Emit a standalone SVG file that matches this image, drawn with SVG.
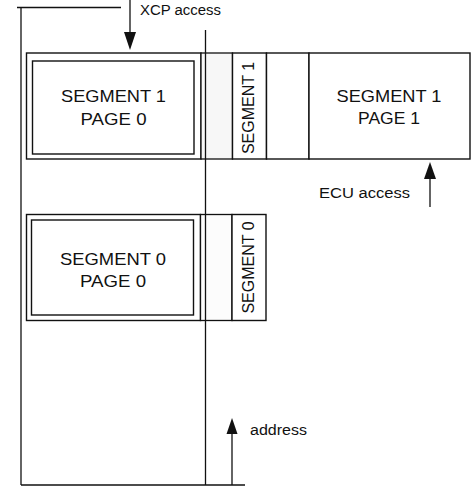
<svg xmlns="http://www.w3.org/2000/svg" width="472" height="489" viewBox="0 0 472 489">
  <style>
    .ln { stroke: #111; stroke-width: 1.3; fill: none; }
    .bx { stroke: #111; stroke-width: 1.4; fill: #fff; }
    .gap { stroke: #111; stroke-width: 1.3; fill: #f7f7f7; }
    .gap2 { stroke: #111; stroke-width: 1.3; fill: #fcfcfc; }
    .big { font-family: "Liberation Sans", Arial, sans-serif; font-size: 17px; fill: #111; text-anchor: middle; }
    .rot { font-family: "Liberation Sans", Arial, sans-serif; font-size: 16px; fill: #111; text-anchor: middle; }
    .lbl { font-family: "Liberation Sans", Arial, sans-serif; font-size: 15.5px; fill: #111; }
    .head { fill: #111; stroke: none; }
  </style>

  <rect width="472" height="489" fill="#fff"/>

  <!-- address space frame -->
  <g id="frame">
    <line class="ln" x1="17" y1="7.5" x2="121" y2="7.5"/>
    <line class="ln" x1="21" y1="7.5" x2="21" y2="485"/>
    <line class="ln" x1="21" y1="485" x2="245" y2="485"/>
  </g>

  <!-- segment 1 : page 0 (XCP side) -->
  <g id="seg1-page0">
    <rect class="bx" x="26.5" y="53" width="174.5" height="106"/>
    <rect class="bx" x="32.5" y="61" width="161.5" height="93"/>
    <text class="big" x="113.5" y="102" textLength="105" lengthAdjust="spacingAndGlyphs">SEGMENT 1</text>
    <text class="big" x="113.5" y="124.5" textLength="66" lengthAdjust="spacingAndGlyphs">PAGE 0</text>
  </g>

  <!-- segment 1 strip -->
  <g id="seg1-strip">
    <rect class="gap" x="201" y="53" width="31.5" height="106"/>
    <rect class="bx" x="232.5" y="53" width="34" height="106"/>
    <text class="rot" transform="translate(253.5 108) rotate(-90)">SEGMENT 1</text>
    <rect class="bx" x="266.5" y="53" width="42.5" height="106"/>
  </g>

  <!-- segment 1 : page 1 (ECU side) -->
  <g id="seg1-page1">
    <rect class="bx" x="309" y="53" width="161" height="106"/>
    <text class="big" x="389" y="101.5" textLength="105" lengthAdjust="spacingAndGlyphs">SEGMENT 1</text>
    <text class="big" x="389" y="124" textLength="62" lengthAdjust="spacingAndGlyphs">PAGE 1</text>
  </g>

  <!-- segment 0 : page 0 -->
  <g id="seg0-page0">
    <rect class="bx" x="26.5" y="214.5" width="174" height="106"/>
    <rect class="bx" x="31.5" y="220" width="162" height="95"/>
    <text class="big" x="113" y="264.5" textLength="106" lengthAdjust="spacingAndGlyphs">SEGMENT 0</text>
    <text class="big" x="113" y="286.5" textLength="66" lengthAdjust="spacingAndGlyphs">PAGE 0</text>
  </g>

  <!-- segment 0 strip -->
  <g id="seg0-strip">
    <rect class="gap2" x="200.5" y="214.5" width="31.5" height="106"/>
    <rect class="bx" x="232" y="214.5" width="34" height="106"/>
    <text class="rot" transform="translate(253.5 267.5) rotate(-90)">SEGMENT 0</text>
  </g>

  <!-- connectors and arrows -->
  <g id="connectors">
    <line class="ln" x1="205.5" y1="30" x2="205.5" y2="485"/>
    <line class="ln" x1="130" y1="0" x2="130" y2="34"/>
    <polygon class="head" points="124,32 136,32 130,50"/>
    <line class="ln" x1="430" y1="177" x2="430" y2="207"/>
    <polygon class="head" points="424,179 436,179 430,162"/>
    <line class="ln" x1="232" y1="432" x2="232" y2="485"/>
    <polygon class="head" points="226.5,434 237.5,434 232,418"/>
  </g>

  <!-- labels -->
  <g id="labels">
    <text class="lbl" x="140" y="15" textLength="81" lengthAdjust="spacingAndGlyphs">XCP access</text>
    <text class="lbl" x="319" y="198" textLength="91" lengthAdjust="spacingAndGlyphs">ECU access</text>
    <text class="lbl" x="250" y="435" textLength="57" lengthAdjust="spacingAndGlyphs">address</text>
  </g>
</svg>
